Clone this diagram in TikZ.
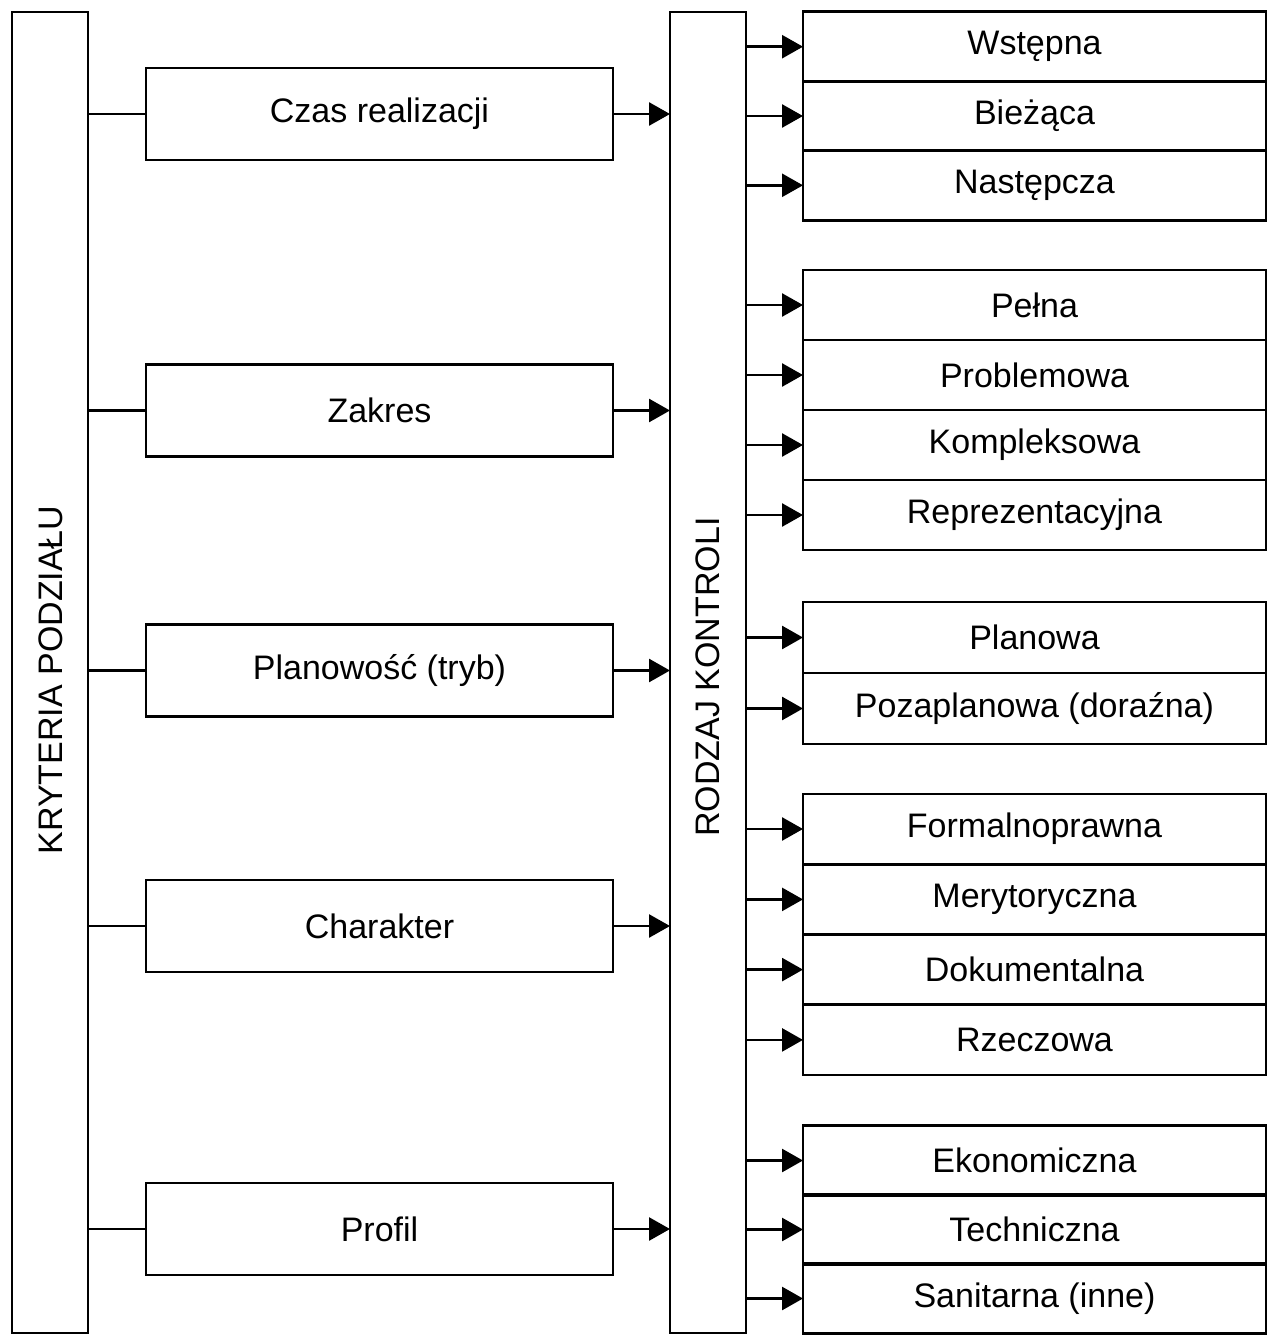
\documentclass[tikz,border=0pt]{standalone}
\usepackage{fontspec}
\setmainfont{Liberation Sans}
\usetikzlibrary{arrows.meta}
\begin{document}
\begin{tikzpicture}[x=1pt,y=-1pt, line width=2.7pt,
  every node/.style={font=\fontsize{34}{40}\selectfont},
  box/.style={draw, inner sep=0pt, outer sep=0pt, minimum width=467pt, minimum height=92pt},
  cell/.style={draw, inner sep=0pt, outer sep=0pt, minimum width=463pt, minimum height=70pt},
  tall/.style={draw, inner sep=0pt, outer sep=0pt, minimum width=76pt, minimum height=1321pt},
  arr/.style={-{Triangle[length=21pt,width=23pt]}, line width=2.7pt}]
\useasboundingbox (0,0) rectangle (1268,1336);
% tall boxes
\node[tall] (K) at (50,672.5) {};
\node[rotate=90] (Klab) at (51,680) {KRYTERIA PODZIAŁU};
\node[tall] (R) at (708,672.5) {};
\node[rotate=90] (Rlab) at (708,677) {RODZAJ KONTROLI};
% middle boxes
\node[box] (c1) at (379.5,114) {Czas realizacji};
\node[box] (c2) at (379.5,410.5) {Zakres};
\node[box] (c3) at (379.5,670.5) {Planowość (tryb)};
\node[box] (c4) at (379.5,926) {Charakter};
\node[box] (c5) at (379.5,1229) {Profil};
\foreach \i in {1,...,5}{
  \draw (K.east |- c\i.west) -- (c\i.west);
  \draw[arr] (c\i.east) -- (c\i.east -| R.west);
}
% right cells
\node[cell] (w1) at (1034.5,46.7) {Wstępna};
\node[cell] (w2) at (1034.5,116) {Bieżąca};
\node[cell] (w3) at (1034.5,185.3) {Następcza};
\node[cell] (w4) at (1034.5,305) {Pełna};
\node[cell] (w5) at (1034.5,375) {Problemowa};
\node[cell] (w6) at (1034.5,445) {Kompleksowa};
\node[cell] (w7) at (1034.5,515) {Reprezentacyjna};
\node[cell,minimum height=71pt] (w8) at (1034.5,637.5) {Planowa};
\node[cell,minimum height=71pt] (w9) at (1034.5,708.5) {Pozaplanowa (doraźna)};
\node[cell] (w10) at (1034.5,829) {Formalnoprawna};
\node[cell] (w11) at (1034.5,899.4) {Merytoryczna};
\node[cell] (w12) at (1034.5,969.6) {Dokumentalna};
\node[cell] (w13) at (1034.5,1039.9) {Rzeczowa};
\node[cell] (w14) at (1034.5,1160.5) {Ekonomiczna};
\node[cell] (w15) at (1034.5,1229.5) {Techniczna};
\node[cell] (w16) at (1034.5,1298.5) {Sanitarna (inne)};
\foreach \i in {1,...,16}{
  \draw[arr] (R.east |- w\i.west) -- (w\i.west);
}
\end{tikzpicture}
\end{document}
